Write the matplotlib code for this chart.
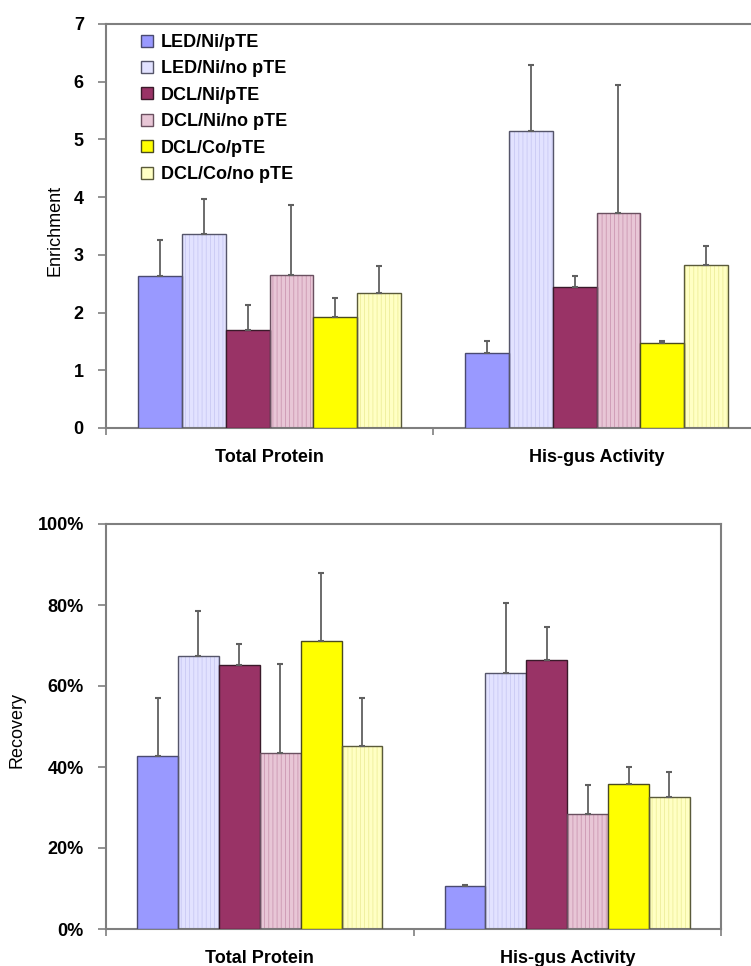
import matplotlib
matplotlib.use("Agg")
import matplotlib.pyplot as plt
from matplotlib.patches import Patch
import numpy as np

plt.rcParams['font.family'] = ['Liberation Sans', 'DejaVu Sans']
plt.rcParams['hatch.linewidth'] = 0.6

categories = ["Total Protein", "His-gus Activity"]
series = ["LED/Ni/pTE", "LED/Ni/no pTE", "DCL/Ni/pTE", "DCL/Ni/no pTE", "DCL/Co/pTE", "DCL/Co/no pTE"]

enrich_vals = [[2.64, 1.30], [3.37, 5.15], [1.70, 2.44], [2.65, 3.73], [1.92, 1.47], [2.34, 2.83]]
enrich_err = [[0.61, 0.20], [0.60, 1.14], [0.43, 0.20], [1.21, 2.21], [0.33, 0.03], [0.47, 0.32]]

recov_vals = [[42.7, 10.5], [67.5, 63.1], [65.1, 66.4], [43.4, 28.4], [71.2, 35.9], [45.3, 32.7]]
recov_err = [[14.3, 0.4], [10.9, 17.3], [5.3, 8.2], [22.0, 7.2], [16.7, 4.2], [11.7, 6.1]]

face = ["#9999FF", "#E2E2FF", "#993366", "#E8C6D6", "#FFFF00", "#FFFFC4"]
stripe = [None, "#C9C9F4", None, "#CC98B2", None, "#EEEE9A"]
edge = ["#4A4A70", "#55556A", "#3A1A2A", "#6A5060", "#4A4A20", "#5A5A3A"]

W, H = 751, 966
fig = plt.figure(figsize=(W / 100, H / 100), dpi=100)

def px(l, t, r, b):
    return [l / W, 1 - b / H, (r - l) / W, (b - t) / H]

spine_col = "#7F7F7F"

def draw(ax, vals, errs, bw):
    n = len(series)
    x = np.arange(len(categories)) + 0.5
    for i in range(n):
        xs = x + (i - (n - 1) / 2) * bw
        if stripe[i] is not None:
            ax.bar(xs, vals[i], width=bw, color=face[i], edgecolor=stripe[i], hatch='||||', linewidth=0, zorder=2)
            ax.bar(xs, vals[i], width=bw, fill=False, edgecolor=edge[i], linewidth=1.0, zorder=3)
        else:
            ax.bar(xs, vals[i], width=bw, color=face[i], edgecolor=edge[i], linewidth=1.0, zorder=3)
        ax.errorbar(xs, vals[i], yerr=[np.zeros(len(categories)), errs[i]], fmt='none',
                    ecolor="#606060", elinewidth=1.3, capsize=2.5, capthick=1.5, zorder=4)
    ax.set_xlim(0, len(categories))
    ax.set_xticks(np.arange(len(categories) + 1))
    ax.set_xticklabels([])
    ax.set_xticks(x, minor=True)
    ax.set_xticklabels(categories, minor=True, fontsize=13, fontweight='bold')
    ax.tick_params(axis='x', which='minor', length=0, pad=15)
    ax.tick_params(axis='x', which='major', length=5, width=1.2, color=spine_col, direction='out')
    ax.tick_params(axis='y', length=6, width=1.2, color=spine_col, direction='out', pad=10)
    for s in ax.spines.values():
        s.set_color(spine_col)
        s.set_linewidth(1.5)

# Top chart
ax1 = fig.add_axes(px(106, 24, 760, 428))
draw(ax1, enrich_vals, enrich_err, 0.134)
ax1.set_ylim(0, 7)
ax1.set_yticks(range(0, 8))
ax1.set_yticklabels([str(v) for v in range(0, 8)], fontsize=13, fontweight='bold')
ax1.spines['right'].set_visible(False)
fig.text(55 / W, 1 - 230 / H, "Enrichment", rotation=90, fontsize=13, ha='center', va='center')

handles = [Patch(facecolor=face[i], edgecolor=edge[i], linewidth=1.0) for i in range(len(series))]
leg = ax1.legend(handles, series, loc='upper left', bbox_to_anchor=(141 / W, 1 - 34 / H),
                 bbox_transform=fig.transFigure, frameon=False, prop={'size': 13, 'weight': 'bold'},
                 handlelength=0.65, handleheight=0.65, handletextpad=0.45, labelspacing=0.52, borderpad=0,
                 borderaxespad=0)

# Bottom chart
ax2 = fig.add_axes(px(106, 524, 721, 929))
draw(ax2, recov_vals, recov_err, 0.133)
ax2.set_ylim(0, 100)
ax2.set_yticks(range(0, 101, 20))
ax2.set_yticklabels([f"{v}%" for v in range(0, 101, 20)], fontsize=13, fontweight='bold')
fig.text(17 / W, 1 - 730 / H, "Recovery", rotation=90, fontsize=13, ha='center', va='center')

fig.savefig("out.png", dpi=100)
